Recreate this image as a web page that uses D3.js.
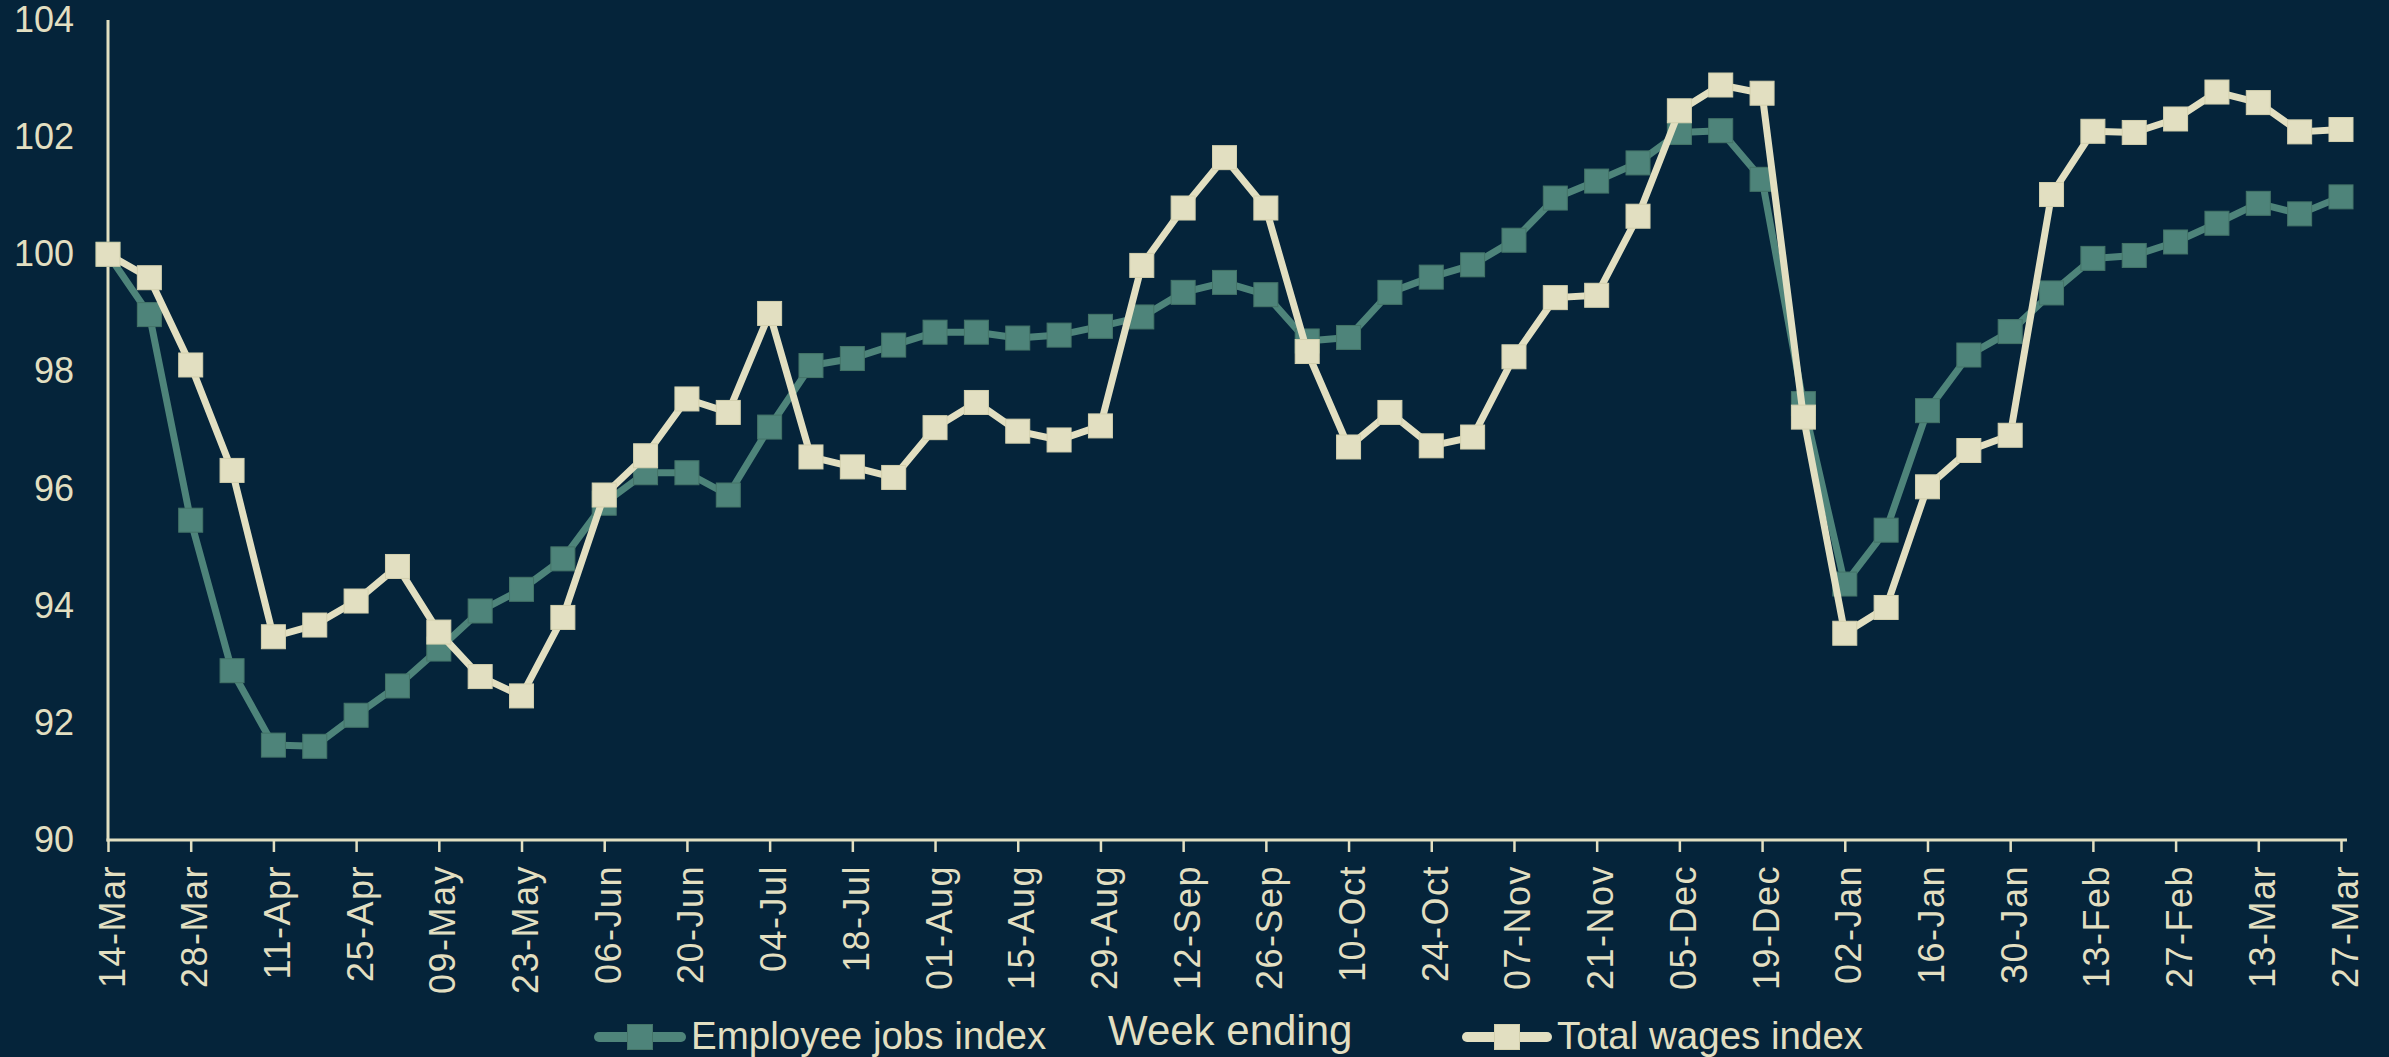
<!DOCTYPE html>
<html>
<head>
<meta charset="utf-8">
<script src="https://cdn.jsdelivr.net/npm/d3@7"></script>
<style>
  html, body { margin: 0; padding: 0; background: #05243a; }
  svg { display: block; }
  text { font-family: "Liberation Sans", Arial, sans-serif; }
</style>
</head>
<body>
<script>
const weeks = ["14-Mar","21-Mar","28-Mar","04-Apr","11-Apr","18-Apr","25-Apr","02-May","09-May","16-May","23-May","30-May","06-Jun","13-Jun","20-Jun","27-Jun","04-Jul","11-Jul","18-Jul","25-Jul","01-Aug","08-Aug","15-Aug","22-Aug","29-Aug","05-Sep","12-Sep","19-Sep","26-Sep","03-Oct","10-Oct","17-Oct","24-Oct","31-Oct","07-Nov","14-Nov","21-Nov","28-Nov","05-Dec","12-Dec","19-Dec","26-Dec","02-Jan","09-Jan","16-Jan","23-Jan","30-Jan","06-Feb","13-Feb","20-Feb","27-Feb","06-Mar","13-Mar","20-Mar","27-Mar"];

const employeeJobs = [100, 98.97, 95.46, 92.89, 91.62, 91.6, 92.13, 92.63, 93.26, 93.91, 94.28, 94.8, 95.75, 96.27, 96.27, 95.89, 97.05, 98.1, 98.22, 98.45, 98.67, 98.67, 98.57, 98.62, 98.77, 98.93, 99.35, 99.52, 99.31, 98.52, 98.58, 99.35, 99.61, 99.82, 100.24, 100.96, 101.25, 101.56, 102.08, 102.11, 101.28, 97.45, 94.37, 95.29, 97.33, 98.28, 98.68, 99.34, 99.93, 99.98, 100.21, 100.53, 100.87, 100.69, 100.98];

const totalWages = [100, 99.6, 98.11, 96.31, 93.47, 93.67, 94.08, 94.67, 93.55, 92.79, 92.46, 93.8, 95.89, 96.56, 97.53, 97.3, 98.99, 96.54, 96.37, 96.19, 97.04, 97.47, 96.98, 96.83, 97.07, 99.81, 100.79, 101.65, 100.79, 98.34, 96.71, 97.3, 96.73, 96.88, 98.25, 99.26, 99.3, 100.65, 102.45, 102.89, 102.75, 97.22, 93.53, 93.97, 96.03, 96.65, 96.91, 101.02, 102.1, 102.08, 102.31, 102.77, 102.59, 102.09, 102.13];

const yTicks = [90, 92, 94, 96, 98, 100, 102, 104];
const xTickLabels = weeks.filter((d, i) => i % 2 === 0);

const seriesNames = ["Employee jobs index", "Total wages index"];
const axisTitle = "Week ending";

const W = 2389, H = 1057;
const BG = "#05243a", TEAL = "#4e847a", CREAM = "#e2dfc1";

const svg = d3.select("body").append("svg").attr("width", W).attr("height", H);
svg.append("rect").attr("width", W).attr("height", H).attr("fill", BG);

const x = d3.scalePoint().domain(weeks).range([108, 2341]);
const y = d3.scaleLinear().domain([90, 104]).range([840, 20]);

// Y axis
const yAxis = svg.append("g").attr("transform", "translate(108,0)")
  .call(d3.axisLeft(y).tickValues(yTicks).tickSize(0).tickPadding(34).tickFormat(d3.format("d")));
yAxis.select(".domain").remove();
yAxis.selectAll("text").attr("fill", CREAM).style("font-size", "36px");
svg.append("line").attr("x1", 108).attr("x2", 108).attr("y1", 20).attr("y2", 841.5)
  .attr("stroke", CREAM).attr("stroke-width", 3);

// X axis
const xAxis = svg.append("g").attr("transform", "translate(0,840)")
  .call(d3.axisBottom(x).tickValues(xTickLabels).tickSize(12).tickSizeOuter(0));
xAxis.select(".domain").remove();
xAxis.selectAll(".tick line").attr("stroke", CREAM).attr("stroke-width", 2.5);
xAxis.selectAll("text")
  .attr("fill", CREAM)
  .style("font-size", "36px")
  .style("letter-spacing", "1.5px")
  .attr("transform", "rotate(-90)")
  .attr("x", -25).attr("y", 0).attr("dy", "16px")
  .style("text-anchor", "end");
svg.append("line").attr("x1", 106.5).attr("x2", 2347).attr("y1", 840).attr("y2", 840)
  .attr("stroke", CREAM).attr("stroke-width", 3);

// Series
const line = d3.line().x((d, i) => x(weeks[i])).y(d => y(d));
const MS = 24;

function drawSeries(values, color, stroke) {
  const g = svg.append("g");
  g.append("path").datum(values).attr("d", line)
    .attr("fill", "none").attr("stroke", color).attr("stroke-width", 7)
    .attr("stroke-linejoin", "round").attr("stroke-linecap", "round");
  g.selectAll("rect").data(values).join("rect")
    .attr("x", (d, i) => x(weeks[i]) - MS / 2)
    .attr("y", d => y(d) - MS / 2)
    .attr("width", MS).attr("height", MS)
    .attr("fill", color).attr("stroke", stroke).attr("stroke-width", 1);
}
drawSeries(employeeJobs, TEAL, "#447468");
drawSeries(totalWages, CREAM, "#d3d0ae");

// Legend
function legendItem(x0, x1, color, stroke, label) {
  const g = svg.append("g");
  g.append("line").attr("x1", x0 + 5).attr("x2", x1 - 5).attr("y1", 1037).attr("y2", 1037)
    .attr("stroke", color).attr("stroke-width", 10).attr("stroke-linecap", "round");
  const cx = (x0 + x1) / 2;
  g.append("rect").attr("x", cx - 12.5).attr("y", 1037 - 12.5).attr("width", 25).attr("height", 25)
    .attr("fill", color).attr("stroke", stroke).attr("stroke-width", 1);
  g.append("text").attr("x", x1 + 5).attr("y", 1049).attr("fill", CREAM)
    .style("font-size", "38.5px").text(label);
}
legendItem(594, 686, TEAL, "#447468", seriesNames[0]);
legendItem(1462, 1552, CREAM, "#d3d0ae", seriesNames[1]);

svg.append("text").attr("x", 1108).attr("y", 1045).attr("fill", CREAM)
  .style("font-size", "42px").text(axisTitle);
</script>
</body>
</html>
